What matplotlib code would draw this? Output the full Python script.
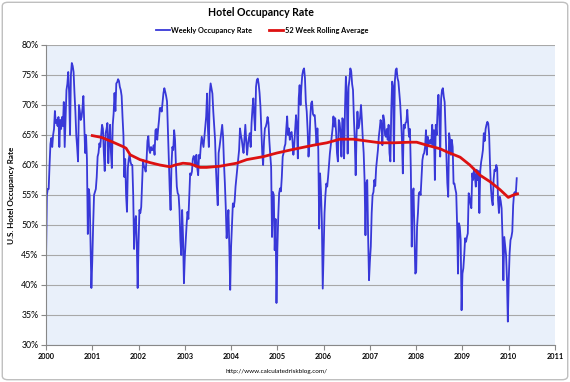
import matplotlib
matplotlib.use("Agg")
import matplotlib.pyplot as plt
from matplotlib.patches import FancyBboxPatch

plt.rcParams['font.family'] = ['Lato', 'DejaVu Sans']

start_year = 2000
occ_2000 = [44, 55, 56, 56, 60, 63.5, 64.5, 63, 65, 66, 69, 67, 67.5, 66.5, 68, 63, 67.5, 66, 68, 66.5,
            70.5, 63, 68, 72.5, 73.5, 75.5, 72, 65, 75, 77, 76.5, 75.5, 72, 69, 65, 63, 60.6, 70, 69, 67.5,
            68, 69.5, 71.5, 67, 62, 65, 61, 48.5, 56, 55, 47, 39.5]
occ_2001 = [44, 50, 55, 55.5, 56, 58, 61.4, 62, 63.6, 63, 65, 66.7, 66, 62, 59, 65.3, 66, 67, 60.3, 64,
            66.7, 62, 59.5, 66.7, 68.6, 72, 69, 73.6, 73.8, 74.3, 74, 73, 72.5, 71.5, 68, 65, 58, 61, 55, 52.2,
            59.5, 61, 61.7, 60.5, 60, 60, 55, 46, 50.5, 51.5, 47, 39.5]
occ_2002 = [47, 52.5, 52, 53, 57, 60.8, 59.8, 59.5, 58.9, 60.8, 64, 64.8, 62.5, 62, 63, 62.5, 62.5, 63.3, 61.7, 65.8,
            66, 64.2, 66, 67.5, 69.5, 69.5, 68.9, 70.5, 72, 72.8, 72.2, 71.5, 70.6, 66, 61, 56, 52.5, 60, 63, 62.5,
            65.8, 64.2, 60, 56.4, 55.3, 55, 52.5, 47.5, 45, 52.5, 48, 40.3]
occ_2003 = [44.7, 47.5, 50, 52.2, 51, 55, 58.6, 58.3, 58.9, 61, 61.5, 61, 59.7, 61.7, 59.5, 58.3, 61.7, 61.1, 63.3, 64.7,
            63.8, 63, 64.7, 66.5, 68.1, 71.9, 66, 63, 72, 73.6, 72.8, 71.9, 68.9, 66.5, 64.2, 59.4, 56, 53.3, 62, 63,
            64.2, 65.5, 66.7, 64.7, 60.3, 57, 53, 47.8, 50, 52.5, 46.4, 39.2]
occ_2004 = [46.4, 50, 53.6, 53, 54, 56.4, 58, 59.7, 61, 62.5, 66.1, 65, 64.2, 63, 62, 64.5, 66.7, 64, 61.7, 63.5,
            64.5, 65.3, 63, 67, 69.4, 71.1, 68, 65.8, 73, 74.2, 74.4, 73.5, 72, 69.7, 66, 62, 60, 64, 66.1, 66.4,
            67, 68, 67, 64, 61.7, 59.7, 48, 55.5, 55, 45.8, 51, 37]
occ_2005 = [46, 51.4, 55.3, 56.1, 55.6, 58, 61.4, 62, 63, 63.5, 66, 68.1, 65, 66.1, 64.2, 65.3, 65.5, 64, 61.7, 63.3,
            66, 68.3, 66.4, 61.1, 71.1, 73.3, 70, 73, 75, 75.8, 76.1, 74.5, 70.5, 68.9, 65.8, 61.4, 63.5, 68, 70.3, 70.6,
            68.5, 68.2, 68.3, 66, 63.3, 66.1, 62.5, 49.4, 58.6, 55.6, 50.6, 39.4]
occ_2006 = [45.8, 52, 55, 56.9, 56.4, 58, 60, 61.9, 63.3, 64.7, 66, 68.1, 66.4, 67.8, 65.5, 62, 60.6, 67.5, 67, 65.3,
            61.4, 67.8, 67.5, 61.1, 69.4, 74.7, 71.7, 61.9, 73, 74.2, 76.1, 75.6, 73.5, 72.5, 67.8, 64.2, 58.3, 65, 68.9, 66.1,
            66.7, 68, 70, 67.5, 64.4, 62, 57.5, 48.3, 57, 57.5, 48, 40.8]
occ_2007 = [44, 46.4, 52, 55, 55.5, 57.5, 56.5, 59.5, 61, 62.5, 64.7, 66, 67.5, 66.8, 63.3, 68.3, 67.5, 65, 64.7, 66,
            64.2, 66.7, 62, 60.6, 69, 73.9, 73.1, 60.6, 73.9, 75.8, 76.1, 74.5, 73.9, 72, 70.3, 67.5, 64.2, 58.6, 66.7, 66.1,
            67, 67.2, 69.2, 66.7, 64.7, 66, 59.2, 46.4, 55, 56.1, 49.2, 41.9]
occ_2008 = [42.2, 49.7, 52, 55.3, 55.5, 55, 58, 60.8, 61.7, 62, 63, 65.8, 61.7, 64.7, 63.5, 64, 64.2, 63.5, 66.7, 63.3,
            65.8, 57.5, 66.7, 65, 69, 71.7, 68.1, 61.4, 71, 72.5, 72.8, 71.4, 70.5, 65.8, 61.4, 57, 54.7, 65.3, 64.2, 61.7,
            64.2, 63, 56.9, 56.9, 56, 55.3, 50, 41.9, 50.3, 49.7, 47.5, 35.8]
occ_2009 = [41.9, 42.8, 45, 47.8, 47.2, 48, 48.6, 55.3, 54.7, 53.5, 52.8, 58.6, 57.5, 59.4, 58, 56.4, 59.2, 57.5, 59, 52,
            59, 60.5, 61.4, 62.5, 65.3, 64, 66, 66.7, 67.2, 66.9, 65, 60, 56.1, 54.2, 53.3, 57.5, 59.2, 59, 60, 59.5,
            54.2, 52, 54.7, 54, 52.8, 48, 40.8, 48, 46.4, 45, 41, 33.9]
occ_2010 = [40.8, 45.3, 47.5, 48, 48.9, 53.3, 55.3, 55.5, 55.3, 57.8]

avg_dates = [2001.0, 2001.2, 2001.42, 2001.67, 2001.73, 2001.82, 2002.03, 2002.25, 2002.46, 2002.68, 2002.79,
             2002.96, 2003.11, 2003.33, 2003.47, 2003.76, 2004.12, 2004.34, 2004.70, 2004.99, 2005.34, 2005.78,
             2006.07, 2006.35, 2006.64, 2006.93, 2007.22, 2007.51, 2007.87, 2008.01, 2008.23, 2008.52, 2008.66,
             2008.95, 2009.16, 2009.38, 2009.60, 2009.81, 2009.99, 2010.10, 2010.19]
avg_values = [64.9, 64.6, 63.9, 63.05, 62.8, 61.7, 60.9, 60.4, 60.0, 59.7, 60.0,
              60.3, 60.2, 59.6, 59.6, 59.8, 60.3, 60.9, 61.4, 62.0, 62.6, 63.3,
              63.7, 64.3, 64.3, 64.0, 63.7, 63.7, 63.8, 63.8, 63.3, 62.7, 62.2,
              61.3, 60.0, 58.3, 57.2, 55.9, 54.6, 55.0, 55.2]

year_ticks = list(range(2000, 2012))
pct_ticks = list(range(30, 81, 5))

yearly = [occ_2000, occ_2001, occ_2002, occ_2003, occ_2004, occ_2005,
          occ_2006, occ_2007, occ_2008, occ_2009, occ_2010]
week_x, week_v = [], []
for i, arr in enumerate(yearly):
    for w, v in enumerate(arr):
        week_x.append(start_year + i + w / 52.0)
        week_v.append(v)

W, H = 570, 382
fig = plt.figure(figsize=(5.7, 3.82), dpi=100)
fig.patch.set_facecolor('white')
border = FancyBboxPatch((0.004, 0.006), 0.992, 0.988, boxstyle="round,pad=0,rounding_size=0.01",
                        transform=fig.transFigure, facecolor='none', edgecolor='#BFBFBF', lw=1.0)
fig.patches.append(border)

ax = fig.add_axes([46 / W, 1 - 345 / H, 509 / W, 300 / H])
ax.set_facecolor('#E9F0FA')
ax.grid(axis='y', color='#A8A8A8', lw=0.8)
ax.set_axisbelow(True)
l1, = ax.plot(week_x, week_v, color='#3838D8', lw=1.3, label='Weekly Occupancy Rate')
l2, = ax.plot(avg_dates, avg_values, color='#DD1111', lw=2.0, label='52 Week Rolling Average')
ax.set_xlim(2000, 2011)
ax.set_ylim(30, 80)
ax.set_xticks(year_ticks)
ax.set_xticklabels([str(y) for y in year_ticks], fontsize=5.3, fontweight='bold')
ax.set_yticks(pct_ticks)
ax.set_yticklabels([f"{p}%" for p in pct_ticks], fontsize=6.3)
ax.tick_params(axis='both', length=3.5, width=0.8, color='#888888', pad=2)
for s in ['top', 'right']:
    ax.spines[s].set_visible(False)
for s in ['left', 'bottom']:
    ax.spines[s].set_color('#888888')
    ax.spines[s].set_linewidth(0.8)
ax.set_ylabel('U.S. Hotel Occupancy Rate', fontsize=5.9, fontweight='bold')
ax.yaxis.set_label_coords(-31 / 509, 0.5)

fig.text(261 / W, 1 - 13 / H, 'Hotel Occupancy Rate', ha='center', va='center', fontsize=7.6, fontweight='bold')
fig.legend(handles=[l1, l2], loc='center', bbox_to_anchor=(262 / W, 1 - 30 / H), ncol=2, frameon=False,
           handlelength=1.9, columnspacing=2.3, handletextpad=0.2,
           prop={'weight': 'bold', 'size': 5.3})
fig.text(276 / W, 1 - 371 / H, 'http://www.calculatedriskblog.com/', ha='center', va='center', fontsize=4.6)

fig.savefig('out.png', dpi=100)
